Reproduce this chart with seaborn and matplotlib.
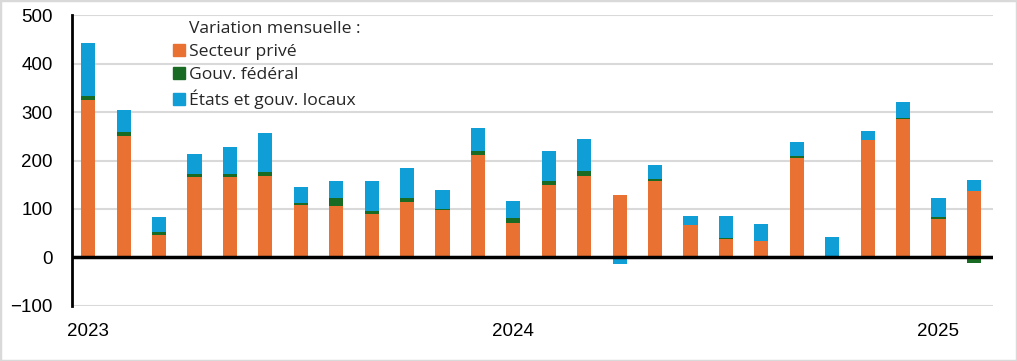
import numpy as np
import pandas as pd
import matplotlib
matplotlib.use("Agg")
import matplotlib.pyplot as plt
import matplotlib.patches as mpatches
import seaborn as sns

# Monthly change, Jan 2023 - Feb 2025 (thousands)
months = pd.date_range("2023-01-01", "2025-02-01", freq="MS").strftime("%Y-%m").tolist()
prive = [324, 250, 47, 167, 165, 169, 109, 107, 89, 115, 97, 212,
         72, 150, 169, 128, 158, 66, 39, 33, 206, 0, 243, 286, 80, 138]
federal = [10, 8, 6, 6, 8, 8, 4, 15, 6, 8, 2, 8,
           10, 8, 10, 0, 4, 2, 2, 2, 4, 0, 0, 2, 4, -11]
locaux = [109, 47, 31, 41, 54, 79, 33, 35, 62, 62, 41, 48,
          35, 62, 66, -13, 29, 18, 45, 34, 28, 43, 18, 33, 39, 22]

series_names = ["Secteur privé", "Gouv. fédéral", "États et gouv. locaux"]
colors = ["#E97132", "#196B24", "#0F9ED5"]
year_ticks = [0, 12, 24]
year_labels = ["2023", "2024", "2025"]

sns.set_theme(style="white")
plt.rcParams["font.family"] = ["Liberation Sans", "DejaVu Sans"]

fig = plt.figure(figsize=(10.17, 3.61), dpi=100)
ax = fig.add_axes([0.0708, 0.1524, 0.9056, 0.806])

# stack positives upward, negatives downward
pos_base = np.zeros(len(months))
neg_base = np.zeros(len(months))
for name, vals, col in zip(series_names, [prive, federal, locaux], colors):
    vals = np.array(vals, dtype=float)
    bottom = np.where(vals >= 0, pos_base, neg_base)
    df = pd.DataFrame({"mois": months, "valeur": vals})
    sns.barplot(data=df, x="mois", y="valeur", color=col, width=0.4,
                bottom=bottom, errorbar=None, saturation=1, linewidth=0,
                ax=ax, zorder=3)
    pos_base = pos_base + np.where(vals >= 0, vals, 0)
    neg_base = neg_base + np.where(vals < 0, vals, 0)

ax.set_ylim(-100, 500)
ax.set_xlim(-0.46, 25.54)
ax.set_yticks(range(-100, 501, 100))
ax.set_xticks(year_ticks)
ax.set_xticklabels(year_labels)
ax.set_xlabel("")
ax.set_ylabel("")
ax.yaxis.grid(True, color="#d9d9d9", linewidth=1.5, zorder=0)
ax.set_axisbelow(True)
ax.axhline(0, color="black", linewidth=2.5, zorder=4)
for s in ["top", "right", "bottom"]:
    ax.spines[s].set_visible(False)
ax.spines["left"].set_color("black")
ax.spines["left"].set_linewidth(2)
ax.spines["left"].set_zorder(5)
ax.tick_params(axis="both", length=0, labelsize=13.5, colors="black")
ax.tick_params(axis="y", pad=14)
ax.tick_params(axis="x", pad=12)

handles = [mpatches.Patch(color="none", label="Variation mensuelle :")]
handles += [mpatches.Patch(color=c, label=n) for n, c in zip(series_names, colors)]
ax.legend(handles=handles, loc="upper left", frameon=False,
          bbox_to_anchor=(173 / 1017, 1 - 21 / 361), bbox_transform=fig.transFigure,
          borderpad=0, borderaxespad=0, handlelength=0.68, handleheight=0.68,
          handletextpad=0.25, labelspacing=0.38,
          prop={"family": ["Open Sans", "DejaVu Sans"], "size": 12.6})

# light grey chart border
fig.patches.append(mpatches.Rectangle((0, 0), 1, 1, transform=fig.transFigure,
                                      fill=False, edgecolor="#d9d9d9", linewidth=2.5))

fig.savefig("out.png", dpi=100)
